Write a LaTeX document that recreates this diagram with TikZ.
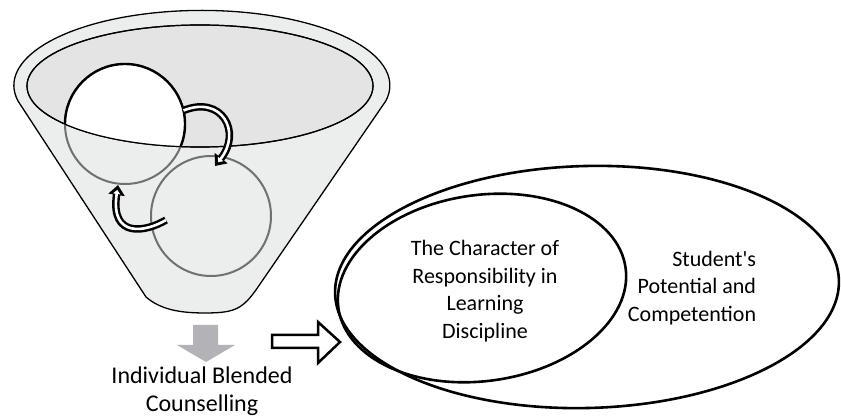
\documentclass[tikz,border=0pt]{standalone}
\usepackage{fontspec}
\setmainfont{Carlito}
\usetikzlibrary{arrows.meta}

\definecolor{funnelgray}{HTML}{ECEDED}
\definecolor{mouthgray}{HTML}{E4E4E4}
\definecolor{ringgray}{HTML}{707070}
\definecolor{outgray}{HTML}{B2B2B7}

\tikzset{
  cycleline/.style={line width=7.5pt,black,-{Triangle[length=10pt,width=16pt]}},
  cyclecore/.style={line width=2.6pt,white,shorten >=5pt,-{Triangle[length=4pt,width=7pt]}},
  ring/.style={ringgray,line width=2pt},
  bigring/.style={line width=2.6pt},
}

\begin{document}
\begin{tikzpicture}[x=1pt,y=1pt]
        \useasboundingbox (0,0) rectangle (841,417);

        % funnel
        \filldraw[fill=funnelgray,line width=1.3pt] (18,316)
              arc[start angle=192,end angle=-12,x radius=188,y radius=75]
              -- (258,130) .. controls (243,108) and (235,104) .. (205,104)
              .. controls (178,104) and (160,108) .. (146,120) -- cycle;
        \filldraw[fill=mouthgray,line width=1.2pt] (200,331) ellipse[x radius=173,y radius=61];

        \coordinate (c1) at (125,293);
        \coordinate (c2) at (211,201);
        \draw[ring] (c2) circle[radius=60];
        \draw[ring] (c1) circle[radius=60];
        \begin{scope}
            \clip (200,331) ellipse[x radius=173,y radius=61];
            \filldraw[fill=white,draw=black,line width=2.4pt] (c1) circle[radius=60];
        \end{scope}
        \draw[line width=1.2pt] (200,331) ellipse[x radius=173,y radius=61];

        % arrows between the circles
        \coordinate (tail1) at (183.5,306.5);
        \coordinate (head1) at (215,251);
        \coordinate (tail2) at (166,197);
        \coordinate (head2) at (118,232);
        \draw[cycleline] (tail1) .. controls (222,322) and (242,285) .. (head1);
        \draw[cyclecore] (tail1) .. controls (222,322) and (242,285) .. (head1);
        \draw[cycleline] (tail2) .. controls (146,185) and (110,178) .. (head2);
        \draw[cyclecore] (tail2) .. controls (146,185) and (110,178) .. (head2);

        % output of the funnel
        \fill[outgray] (193,92) -- (218,92) -- (218,72) -- (235,72) -- (206,55)
                       -- (177,72) -- (193,72) -- cycle;
        \node (counsText) at (202,50) [anchor=north,inner sep=0,align=center,
              font=\fontsize{24}{28}\selectfont] {Individual Blended\\Counselling};
        \filldraw[fill=white,line width=2.5pt,miter limit=4] (272,82) -- (318,82) -- (318,95)
                       -- (340,75) -- (318,54) -- (318,69) -- (272,69) -- cycle;

        % ellipses
        \draw[bigring,rotate around={1.5:(587,130)}] (587,130) ellipse[x radius=252,y radius=121];
        \draw[bigring,rotate around={8:(482,129)}] (482,129) ellipse[x radius=145,y radius=93];
        \node (charText) at (485,126) [align=center,font=\fontsize{22}{27.5}\selectfont]
              {The Character of\\Responsibility in\\Learning\\Discipline};
        \node (potText) at (692,129) [align=right,font=\fontsize{22}{27.5}\selectfont]
              {Student\textquotesingle s\\Potential and\\Competention};
\end{tikzpicture}
\end{document}
